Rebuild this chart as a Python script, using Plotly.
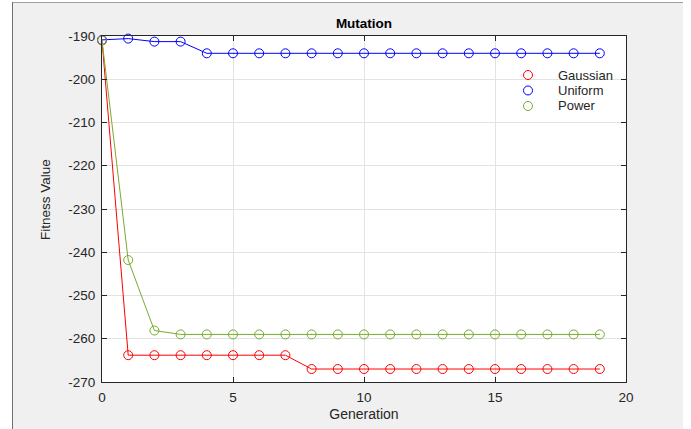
import plotly.graph_objects as go

# Best fitness per generation for three mutation operators
generations = list(range(20))
gaussian = [-191.0] + [-263.8] * 7 + [-267.0] * 12
uniform = [-190.9, -190.6, -191.3, -191.3] + [-194.0] * 16
power = [-191.0, -241.8, -258.1] + [-259.0] * 17

names = ["Gaussian", "Uniform", "Power"]
colors = ["#ff0000", "#0000ff", "#77ac30"]
values = [gaussian, uniform, power]

x_ticks = [0, 5, 10, 15, 20]
y_ticks = [-190, -200, -210, -220, -230, -240, -250, -260, -270]
y_tick_text = ["-190", "-200", "-210", "-220", "-230", "-240", "-250", "-260", "-270"]

W, H = 691, 429
L, R, T, B = 102, 65, 36, 47
pw, ph = W - L - R, H - T - B

FONT = "Liberation Sans, Arial, Helvetica, sans-serif"
TXT = "#262626"
MARKER = 9


def px(xp):
    return (xp - L) / pw


def py(yp):
    return (H - B - yp) / ph


fig = go.Figure()
for name, vals, color in zip(names, values, colors):
    fig.add_trace(go.Scatter(
        x=generations, y=vals, name=name, mode="lines+markers",
        line=dict(color=color, width=1),
        marker=dict(symbol="circle-open", size=MARKER, color=color, line=dict(width=1)),
        showlegend=False, cliponaxis=False,
    ))

# Marker-only legend drawn on an overlay axis spanning the plot area
legend_x = px(528)
legend_rows = [py(75), py(90.5), py(106)]
annotations = []
for name, color, ly in zip(names, colors, legend_rows):
    fig.add_trace(go.Scatter(
        x=[legend_x], y=[ly], mode="markers", xaxis="x2", yaxis="y2",
        marker=dict(symbol="circle-open", size=MARKER, color=color, line=dict(width=1)),
        showlegend=False, hoverinfo="skip",
    ))
    annotations.append(dict(
        text=name, xref="paper", yref="paper", x=px(556), y=ly,
        xanchor="left", yanchor="middle", showarrow=False,
        font=dict(size=13, color=TXT),
    ))

# y-axis title
annotations.append(dict(
    text="Fitness Value", xref="paper", yref="paper", x=px(45), y=py(200),
    xanchor="center", yanchor="middle", textangle=-90, showarrow=False,
    font=dict(size=13.5, color=TXT),
))

shapes = [
    # white margins around the gray panel
    dict(type="rect", xref="paper", yref="paper", x0=px(-5), x1=px(12), y0=py(440), y1=py(-5),
         fillcolor="white", line=dict(width=0), layer="below"),
    dict(type="rect", xref="paper", yref="paper", x0=px(-5), x1=px(700), y0=py(2), y1=py(-5),
         fillcolor="white", line=dict(width=0), layer="below"),
    dict(type="rect", xref="paper", yref="paper", x0=px(683), x1=px(700), y0=py(440), y1=py(-5),
         fillcolor="white", line=dict(width=0), layer="below"),
    # panel borders
    dict(type="line", xref="paper", yref="paper", x0=px(12), x1=px(683), y0=py(2.5), y1=py(2.5),
         line=dict(color="#a0a0a0", width=1), layer="below"),
    dict(type="line", xref="paper", yref="paper", x0=px(12.5), x1=px(12.5), y0=py(2), y1=py(430),
         line=dict(color="#707070", width=1), layer="below"),
]

fig.update_layout(
    width=W, height=H,
    margin=dict(l=L, r=R, t=T, b=B, pad=0, autoexpand=False),
    paper_bgcolor="#f0f0f0", plot_bgcolor="white",
    font=dict(family=FONT, size=12, color=TXT),
    showlegend=False,
    title=dict(text="<b>Mutation</b>", x=(L + pw / 2) / W, xanchor="center",
               y=1 - 23 / H, yanchor="middle", font=dict(size=13.5, color="#000000")),
    shapes=shapes,
    annotations=annotations,
    xaxis=dict(range=[0, 20], tickvals=x_ticks, ticks="inside", ticklen=5,
               tickcolor="#262626", showline=True, linecolor="#262626", linewidth=1,
               mirror="ticks", showgrid=True, gridcolor="#e3e3e3", zeroline=False,
               automargin=False,
               tickfont=dict(size=13.5, color=TXT), ticklabelstandoff=3,
               title=dict(text="Generation", font=dict(size=14, color=TXT), standoff=4)),
    yaxis=dict(range=[-270, -190], tickvals=y_ticks, ticktext=y_tick_text,
               ticks="inside", ticklen=5, automargin=False,
               tickcolor="#262626", showline=True, linecolor="#262626", linewidth=1,
               mirror="ticks", showgrid=True, gridcolor="#e3e3e3", zeroline=False,
               tickfont=dict(size=13.5, color=TXT), ticklabelstandoff=3),
    xaxis2=dict(range=[0, 1], overlaying="x", visible=False, fixedrange=True),
    yaxis2=dict(range=[0, 1], overlaying="y", visible=False, fixedrange=True),
)

fig.write_html("out.html")
